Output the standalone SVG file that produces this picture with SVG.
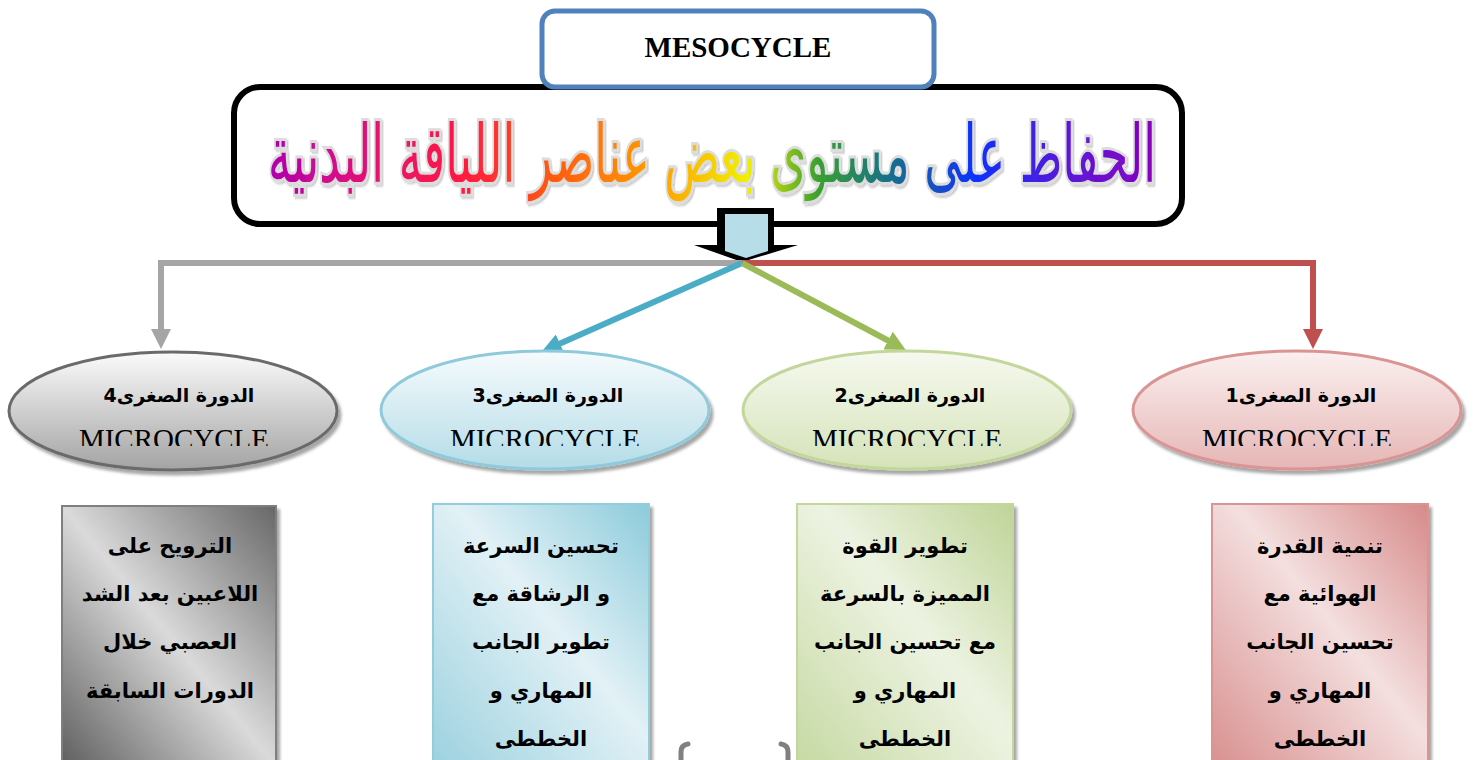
<svg xmlns="http://www.w3.org/2000/svg" width="1480" height="760" viewBox="0 0 1480 760">
  <defs>
    <style>
      .ar { font-family: "DejaVu Sans", "Noto Sans", sans-serif; font-weight: bold; fill: #000; }
      .lbl { font-size: 19px; }
      .body { font-size: 21px; }
      .micro { font-family: "Liberation Serif", serif; font-size: 29px; fill: #000; }
      .conn { fill: none; stroke-width: 6; }
    </style>

    <!-- rainbow fill for the headline (in the headline's own scaled coordinates) -->
    <linearGradient id="rainbow" gradientUnits="userSpaceOnUse" x1="770" y1="0" x2="-770" y2="0">
      <stop offset="0" stop-color="#8a00c0"/>
      <stop offset="0.1" stop-color="#5a18d8"/>
      <stop offset="0.2" stop-color="#1030ff"/>
      <stop offset="0.3" stop-color="#16708a"/>
      <stop offset="0.38" stop-color="#3aa030"/>
      <stop offset="0.46" stop-color="#f0f000"/>
      <stop offset="0.56" stop-color="#ffa000"/>
      <stop offset="0.68" stop-color="#ff5a10"/>
      <stop offset="0.78" stop-color="#ff1a40"/>
      <stop offset="0.9" stop-color="#e0107a"/>
      <stop offset="1" stop-color="#b000b0"/>
    </linearGradient>

    <!-- ellipse fills -->
    <linearGradient id="eGray" x1="0" y1="0" x2="0" y2="1">
      <stop offset="0" stop-color="#fbfbfb"/>
      <stop offset="1" stop-color="#a3a3a3"/>
    </linearGradient>
    <linearGradient id="eBlue" x1="0" y1="0" x2="0" y2="1">
      <stop offset="0" stop-color="#f6fbfd"/>
      <stop offset="1" stop-color="#b4dce7"/>
    </linearGradient>
    <linearGradient id="eGreen" x1="0" y1="0" x2="0" y2="1">
      <stop offset="0" stop-color="#f6f9ef"/>
      <stop offset="1" stop-color="#d5e3b9"/>
    </linearGradient>
    <linearGradient id="eRed" x1="0" y1="0" x2="0" y2="1">
      <stop offset="0" stop-color="#fbf0f0"/>
      <stop offset="1" stop-color="#e5b6b5"/>
    </linearGradient>

    <!-- box fills: dark corners on the diagonal, light centre -->
    <linearGradient id="bGray" x1="1" y1="0" x2="0" y2="1">
      <stop offset="0" stop-color="#676767"/>
      <stop offset="0.5" stop-color="#dadada"/>
      <stop offset="1" stop-color="#5e5e5e"/>
    </linearGradient>
    <linearGradient id="bBlue" x1="1" y1="0" x2="0" y2="1">
      <stop offset="0" stop-color="#8ccbdb"/>
      <stop offset="0.45" stop-color="#e2f1f6"/>
      <stop offset="1" stop-color="#9cd1df"/>
    </linearGradient>
    <linearGradient id="bGreen" x1="1" y1="0" x2="0" y2="1">
      <stop offset="0" stop-color="#bfd497"/>
      <stop offset="0.45" stop-color="#edf3e2"/>
      <stop offset="1" stop-color="#c6d9a2"/>
    </linearGradient>
    <linearGradient id="bRed" x1="1" y1="0" x2="0" y2="1">
      <stop offset="0" stop-color="#d68a89"/>
      <stop offset="0.45" stop-color="#f4dfdf"/>
      <stop offset="1" stop-color="#d8908f"/>
    </linearGradient>

    <filter id="shadow" x="-10%" y="-10%" width="125%" height="130%">
      <feDropShadow dx="3" dy="4" stdDeviation="1.5" flood-color="#000" flood-opacity="0.35"/>
    </filter>
    <filter id="txtShadow" x="-5%" y="-20%" width="110%" height="140%">
      <feDropShadow dx="3" dy="2" stdDeviation="1.2" flood-color="#000" flood-opacity="0.2"/>
    </filter>

    <clipPath id="microClip">
      <rect x="0" y="0" width="1480" height="446"/>
    </clipPath>

    <marker id="mGray" viewBox="0 0 20 20" refX="1" refY="10" markerWidth="20" markerHeight="20" markerUnits="userSpaceOnUse" orient="auto">
      <path d="M0,0 L20,10 L0,20 z" fill="#a5a5a5"/>
    </marker>
    <marker id="mRed" viewBox="0 0 20 20" refX="1" refY="10" markerWidth="20" markerHeight="20" markerUnits="userSpaceOnUse" orient="auto">
      <path d="M0,0 L20,10 L0,20 z" fill="#c0504d"/>
    </marker>
    <marker id="mBlue" viewBox="0 0 20 20" refX="1" refY="10" markerWidth="20" markerHeight="20" markerUnits="userSpaceOnUse" orient="auto">
      <path d="M0,0 L20,10 L0,20 z" fill="#4bacc6"/>
    </marker>
    <marker id="mGreen" viewBox="0 0 20 20" refX="1" refY="10" markerWidth="20" markerHeight="20" markerUnits="userSpaceOnUse" orient="auto">
      <path d="M0,0 L20,10 L0,20 z" fill="#9bbb59"/>
    </marker>
  </defs>

  <rect width="1480" height="760" fill="#fff"/>

  <!-- goal box with rainbow headline, squeezed horizontally to fit the box -->
  <g id="goal">
    <rect x="234" y="87" width="948" height="137" rx="26" fill="#fff" stroke="#000" stroke-width="6"/>
    <g transform="translate(712,182) scale(0.575,1)" filter="url(#txtShadow)">
      <text x="0" y="0" text-anchor="middle" direction="rtl" font-family="'DejaVu Sans', sans-serif" font-size="80"
            fill="url(#rainbow)" stroke="#dcdcdc" stroke-width="6" paint-order="stroke">الحفاظ على مستوى بعض عناصر اللياقة البدنية</text>
    </g>
  </g>

  <!-- title box -->
  <g id="mesocycle">
    <rect x="542" y="11" width="392" height="76" rx="13" fill="#fff" stroke="#4f81bd" stroke-width="5"/>
    <text x="738" y="57" text-anchor="middle" font-family="'Liberation Serif', serif" font-weight="bold" font-size="29">MESOCYCLE</text>
  </g>

  <!-- block arrow below the goal box -->
  <g id="down-arrow">
    <path d="M717,208 H774 V245 H798 L742,262 L694,245 H717 Z" fill="#000"/>
    <path d="M725,214 H768 V251 L746,258 L725,251 Z" fill="#b7dee8"/>
  </g>

  <!-- connectors -->
  <g id="connectors">
    <path class="conn" d="M742,263 H161 V330" stroke="#a5a5a5" marker-end="url(#mGray)"/>
    <path class="conn" d="M742,263 H1313 V330" stroke="#c0504d" marker-end="url(#mRed)"/>
    <path class="conn" d="M742,263 L559,344" stroke="#4bacc6" marker-end="url(#mBlue)"/>
    <path class="conn" d="M742,263 L889,341" stroke="#9bbb59" marker-end="url(#mGreen)"/>
  </g>

  <!-- microcycle ellipses -->
  <g id="micro4">
    <ellipse cx="173" cy="411" rx="164" ry="59" fill="url(#eGray)" stroke="#6b6b6b" stroke-width="3" filter="url(#shadow)"/>
    <text class="ar lbl" x="179" y="402" text-anchor="middle" direction="rtl">الدورة الصغرى4</text>
    <text class="micro" x="174" y="449" text-anchor="middle" clip-path="url(#microClip)">MICROCYCLE</text>
  </g>
  <g id="micro3">
    <ellipse cx="545" cy="410" rx="164" ry="59" fill="url(#eBlue)" stroke="#8fcadb" stroke-width="3" filter="url(#shadow)"/>
    <text class="ar lbl" x="548" y="402" text-anchor="middle" direction="rtl">الدورة الصغرى3</text>
    <text class="micro" x="545" y="449" text-anchor="middle" clip-path="url(#microClip)">MICROCYCLE</text>
  </g>
  <g id="micro2">
    <ellipse cx="907" cy="410" rx="164" ry="59" fill="url(#eGreen)" stroke="#c3d69b" stroke-width="3" filter="url(#shadow)"/>
    <text class="ar lbl" x="910" y="402" text-anchor="middle" direction="rtl">الدورة الصغرى2</text>
    <text class="micro" x="907" y="449" text-anchor="middle" clip-path="url(#microClip)">MICROCYCLE</text>
  </g>
  <g id="micro1">
    <ellipse cx="1297" cy="410" rx="164" ry="59" fill="url(#eRed)" stroke="#d99594" stroke-width="3" filter="url(#shadow)"/>
    <text class="ar lbl" x="1301" y="402" text-anchor="middle" direction="rtl">الدورة الصغرى1</text>
    <text class="micro" x="1297" y="449" text-anchor="middle" clip-path="url(#microClip)">MICROCYCLE</text>
  </g>

  <!-- content boxes -->
  <g id="box4">
    <rect x="62" y="506" width="214" height="260" fill="url(#bGray)" stroke="#7f7f7f" stroke-width="2" filter="url(#shadow)"/>
    <g class="ar body" text-anchor="middle" direction="rtl">
      <text x="170" y="553">الترويح على</text>
      <text x="170" y="601">اللاعبين بعد الشد</text>
      <text x="170" y="649">العصبي خلال</text>
      <text x="170" y="698">الدورات السابقة</text>
    </g>
  </g>
  <g id="box3">
    <rect x="433" y="504" width="216" height="262" fill="url(#bBlue)" stroke="#92cddc" stroke-width="2" filter="url(#shadow)"/>
    <g class="ar body" text-anchor="middle" direction="rtl">
      <text x="541" y="553">تحسين السرعة</text>
      <text x="541" y="601">و الرشاقة  مع</text>
      <text x="541" y="649">تطوير الجانب</text>
      <text x="541" y="698">المهاري و</text>
      <text x="541" y="746">الخططى</text>
    </g>
  </g>
  <g id="box2">
    <rect x="797" y="504" width="216" height="262" fill="url(#bGreen)" stroke="#c3d69b" stroke-width="2" filter="url(#shadow)"/>
    <g class="ar body" text-anchor="middle" direction="rtl">
      <text x="905" y="553">تطوير  القوة</text>
      <text x="905" y="601">المميزة بالسرعة</text>
      <text x="905" y="649">مع تحسين  الجانب</text>
      <text x="905" y="698">المهاري و</text>
      <text x="905" y="746">الخططى</text>
    </g>
  </g>
  <g id="box1">
    <rect x="1212" y="504" width="216" height="262" fill="url(#bRed)" stroke="#d99594" stroke-width="2" filter="url(#shadow)"/>
    <g class="ar body" text-anchor="middle" direction="rtl">
      <text x="1320" y="553">تنمية القدرة</text>
      <text x="1320" y="601">الهوائية مع</text>
      <text x="1320" y="649">تحسين الجانب</text>
      <text x="1320" y="698">المهاري و</text>
      <text x="1320" y="746">الخططى</text>
    </g>
  </g>

  <!-- page-number brackets at the lower edge -->
  <g id="page-mark" fill="none" stroke="#808080" stroke-width="5" stroke-linecap="round">
    <path d="M688,744 Q681,745 681,752 V762"/>
    <path d="M781,744 Q788,745 788,752 V762"/>
  </g>
</svg>
